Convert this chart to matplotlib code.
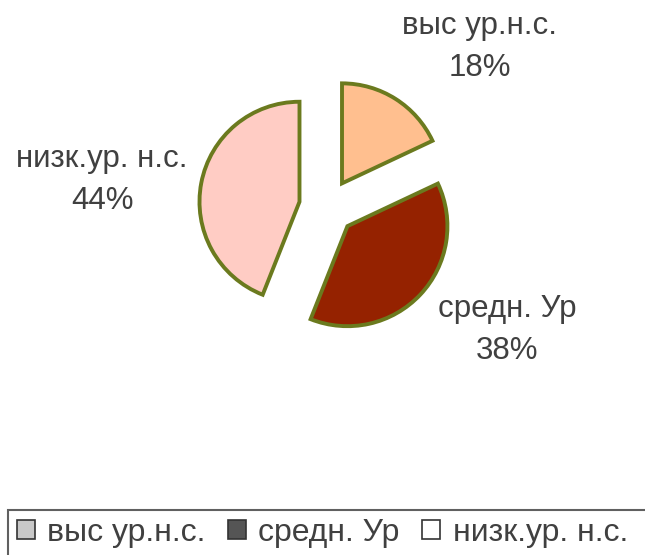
import matplotlib.pyplot as plt
from matplotlib.patches import Patch, Rectangle

# Pie data
labels = ['выс ур.н.с.', 'средн. Ур', 'низк.ур. н.с.']
values = [18, 38, 44]
colors = ['#FFBF8F', '#952200', '#FFCCC4']
legend_colors = ['#C8C8C8', '#555555', '#FFFFFF']

plt.rcParams['font.family'] = ['Liberation Sans', 'DejaVu Sans']

fig = plt.figure(figsize=(6.45, 5.55), dpi=100)
ax = fig.add_axes([0, 0, 1, 1])
ax.axis('off')

# pixel coords, y measured from the bottom
cx, cy, r = 327, 555 - 207, 100
wedges, _ = ax.pie(values, colors=colors, startangle=90, counterclock=False,
                   center=(cx, cy), radius=r, explode=[28] * 3,
                   wedgeprops=dict(edgecolor='#6B7A1E', linewidth=2.8))
ax.set_xlim(0, 645)
ax.set_ylim(0, 555)
ax.set_aspect('equal')

# data labels
label_pos = [(480, 555 - 47), (507, 555 - 330), (102, 555 - 180)]
for (x, y), lab, v in zip(label_pos, labels, values):
    ax.text(x, y, f'{lab}\n{v}%', ha='center', va='center', fontsize=22.5,
            color='#404040', linespacing=1.55)

# legend
frame = Rectangle((8, -5), 660, 555 - 510 + 5, facecolor='white',
                  edgecolor='#606060', linewidth=1.5)
ax.add_patch(frame)
handles = [Patch(facecolor=c, edgecolor='#333333', linewidth=1.2) for c in legend_colors]
fig.legend(handles, labels, loc='center left', bbox_to_anchor=(17 / 645, 1 - 533 / 555),
           ncol=3, frameon=False, fontsize=23, handlelength=0.55, handleheight=0.55,
           handletextpad=0.4, columnspacing=0.7, labelcolor='#404040',
           borderpad=0, borderaxespad=0)

fig.savefig('out.png', dpi=100)
